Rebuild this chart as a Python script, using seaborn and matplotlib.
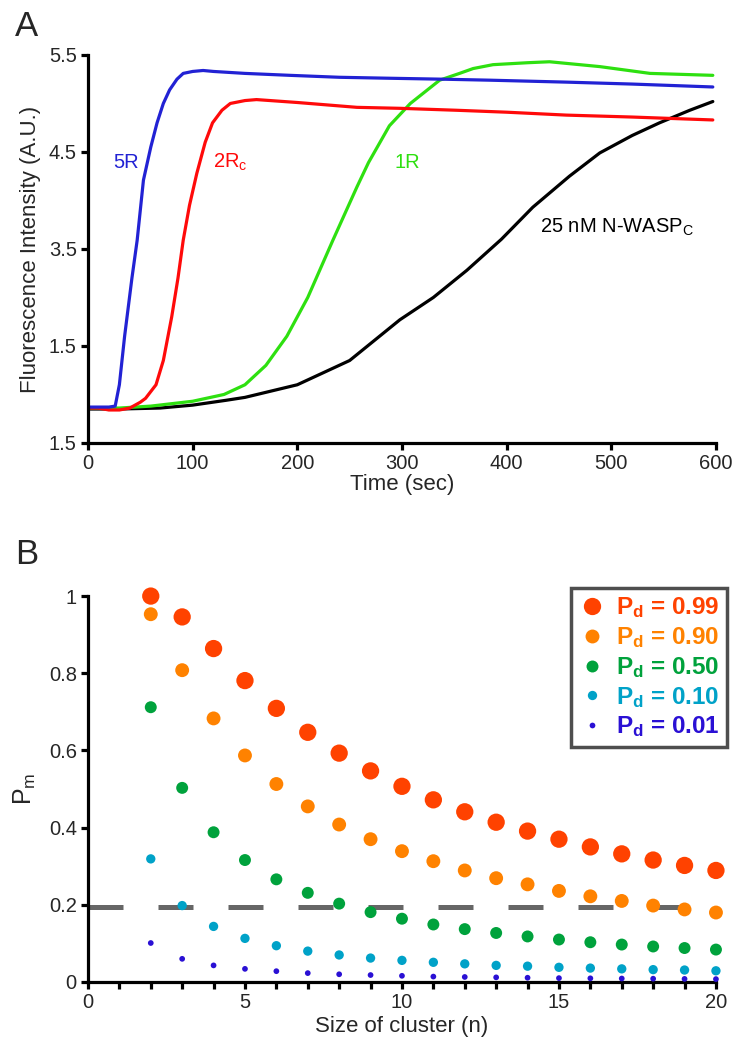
import matplotlib
matplotlib.use("Agg")
import matplotlib.pyplot as plt
import matplotlib.ticker as mticker
from matplotlib.lines import Line2D
import pandas as pd
import seaborn as sns

# Panel A: fluorescence traces (time in sec, intensity in A.U.)
t_5r = [0, 10, 20, 26, 30, 35, 42, 47, 53, 60, 66, 72, 78, 85, 91, 100, 110, 120, 150, 193, 240, 288, 340, 384, 457, 520, 597]
y_5r = [1.87, 1.87, 1.87, 1.88, 2.1, 2.6, 3.2, 3.59, 4.21, 4.55, 4.80, 5.0, 5.14, 5.25, 5.31, 5.33, 5.34, 5.33, 5.31, 5.29, 5.27, 5.26, 5.25, 5.24, 5.22, 5.20, 5.17]

t_2rc = [0, 10, 20, 30, 40, 50, 55, 65, 72, 80, 86, 91, 97, 104, 112, 119, 128, 136, 150, 161, 200, 257, 298, 352, 400, 457, 520, 597]
y_2rc = [1.86, 1.86, 1.84, 1.84, 1.86, 1.92, 1.96, 2.1, 2.35, 2.8, 3.2, 3.59, 3.95, 4.28, 4.6, 4.80, 4.93, 5.0, 5.03, 5.04, 5.01, 4.96, 4.95, 4.93, 4.91, 4.88, 4.86, 4.83]

t_1r = [0, 30, 60, 100, 130, 150, 170, 190, 210, 234, 257, 268, 288, 308, 336, 355, 368, 387, 420, 441, 489, 537, 597]
y_1r = [1.86, 1.86, 1.88, 1.93, 2.0, 2.1, 2.3, 2.6, 3.0, 3.59, 4.14, 4.39, 4.77, 5.0, 5.24, 5.31, 5.36, 5.40, 5.42, 5.43, 5.38, 5.31, 5.29]

t_wasp = [0, 30, 69, 100, 132, 150, 200, 250, 298, 330, 362, 395, 425, 460, 489, 520, 546, 575, 597]
y_wasp = [1.85, 1.85, 1.86, 1.89, 1.94, 1.97, 2.1, 2.35, 2.77, 3.0, 3.28, 3.6, 3.93, 4.25, 4.49, 4.67, 4.80, 4.93, 5.02]

trace_names = ["5R", "2Rc", "1R", "N-WASPc"]
trace_colors = {"5R": "#2222d4", "2Rc": "#ff0a0a", "1R": "#2ee010", "N-WASPc": "#000000"}

# Panel B: P_m versus cluster size n
n_vals = list(range(2, 21))
pm_099 = [1.0, 0.946, 0.864, 0.781, 0.709, 0.647, 0.593, 0.547, 0.507, 0.472, 0.441, 0.414, 0.391, 0.370, 0.350, 0.332, 0.316, 0.302, 0.289]
pm_090 = [0.953, 0.808, 0.683, 0.587, 0.513, 0.455, 0.408, 0.370, 0.339, 0.313, 0.289, 0.269, 0.253, 0.236, 0.222, 0.210, 0.198, 0.188, 0.180]
pm_050 = [0.712, 0.503, 0.388, 0.316, 0.266, 0.231, 0.203, 0.181, 0.164, 0.149, 0.137, 0.127, 0.118, 0.110, 0.103, 0.097, 0.092, 0.088, 0.084]
pm_010 = [0.319, 0.198, 0.144, 0.113, 0.094, 0.080, 0.070, 0.062, 0.056, 0.051, 0.047, 0.043, 0.041, 0.038, 0.036, 0.034, 0.032, 0.031, 0.029]
pm_001 = [0.101, 0.060, 0.043, 0.034, 0.028, 0.023, 0.020, 0.018, 0.016, 0.014, 0.013, 0.012, 0.011, 0.010, 0.0095, 0.009, 0.0085, 0.008, 0.0075]
pd_levels = ["0.99", "0.90", "0.50", "0.10", "0.01"]
pd_colors = {"0.99": "#ff4200", "0.90": "#ff8200", "0.50": "#00a23c", "0.10": "#00a2c8", "0.01": "#2a10d4"}
pd_sizes = {"0.99": 155, "0.90": 100, "0.50": 74, "0.10": 45, "0.01": 17}
threshold = 0.195

sns.set_style("ticks")
plt.rcParams["font.family"] = ["Liberation Sans", "DejaVu Sans"]
plt.rcParams["mathtext.fontset"] = "custom"
plt.rcParams["mathtext.rm"] = "Liberation Sans"
plt.rcParams["mathtext.it"] = "Liberation Sans:italic"
plt.rcParams["mathtext.bf"] = "Liberation Sans:bold"

traces = pd.concat([
    pd.DataFrame({"time": t, "intensity": y, "trace": name})
    for name, t, y in zip(trace_names, [t_5r, t_2rc, t_1r, t_wasp], [y_5r, y_2rc, y_1r, y_wasp])
])
cluster = pd.concat([
    pd.DataFrame({"n": n_vals, "pm": vals, "pd": lvl})
    for lvl, vals in zip(pd_levels, [pm_099, pm_090, pm_050, pm_010, pm_001])
])

fig = plt.figure(figsize=(7.5, 10.43), dpi=100)
ax_a = fig.add_axes([0.1173, 0.5753, 0.8373, 0.372])
ax_b = fig.add_axes([0.1173, 0.0585, 0.8373, 0.370])

# ---- panel A
sns.lineplot(data=traces, x="time", y="intensity", hue="trace", palette=trace_colors,
             hue_order=trace_names[::-1], lw=2.3, ax=ax_a, legend=False, sort=False,
             estimator=None)
ax_a.set_xlim(0, 600)
ax_a.set_ylim(1.5, 5.5)
ax_a.set_xticks(range(0, 601, 100))
ax_a.set_yticks([1.5, 2.5, 3.5, 4.5, 5.5])
ax_a.set_yticklabels(["1.5", "1.5", "3.5", "4.5", "5.5"])
ax_a.set_xlabel("Time (sec)", fontsize=16, labelpad=1)
ax_a.set_ylabel("Fluorescence Intensity (A.U.)", fontsize=16, labelpad=6)

ax_a.text(24, 4.39, "5R", color=trace_colors["5R"], fontsize=14.5, va="center")
ax_a.text(119, 4.39, r"2R$_\mathrm{c}$", color=trace_colors["2Rc"], fontsize=14.5, va="center")
ax_a.text(293, 4.39, "1R", color=trace_colors["1R"], fontsize=14.5, va="center")
ax_a.text(432, 3.72, r"25 nM N-WASP$_\mathrm{C}$", color="black", fontsize=14.5, va="center")

# ---- panel B
ax_b.plot([0, 20], [threshold, threshold], color="#666666", lw=3.6, dashes=(7, 7), zorder=1)
sns.scatterplot(data=cluster, x="n", y="pm", hue="pd", size="pd", palette=pd_colors,
                sizes=pd_sizes, hue_order=pd_levels, linewidth=0, ax=ax_b, legend=False,
                zorder=3, clip_on=False)
ax_b.set_xlim(0, 20)
ax_b.set_ylim(0, 1)
ax_b.xaxis.set_major_locator(mticker.MultipleLocator(1))
ax_b.xaxis.set_major_formatter(mticker.FuncFormatter(lambda v, p: f"{int(v)}" if int(v) % 5 == 0 else ""))
ax_b.set_yticks([0, 0.2, 0.4, 0.6, 0.8, 1.0])
ax_b.set_yticklabels(["0", "0.2", "0.4", "0.6", "0.8", "1"])
ax_b.set_xlabel("Size of cluster (n)", fontsize=16, labelpad=3)
ax_b.set_ylabel(r"P$_\mathrm{m}$", fontsize=18, labelpad=8)

handles = [
    Line2D([], [], ls="none", marker="o", markersize=pd_sizes[lvl] ** 0.5, color=pd_colors[lvl], mew=0)
    for lvl in pd_levels
]
labels = [r"$\mathbf{P_d}$ = " + lvl for lvl in pd_levels]
leg = ax_b.legend(handles, labels, loc="upper right", bbox_to_anchor=(0.969, 0.436),
                  bbox_transform=fig.transFigure, frameon=True, fancybox=False,
                  prop={"size": 17.5, "weight": "bold"}, handletextpad=0.45,
                  labelspacing=0.2, borderpad=0.3, handlelength=1.1, borderaxespad=0)
leg.get_frame().set_edgecolor("#222222")
leg.get_frame().set_linewidth(2.5)
for txt, lvl in zip(leg.get_texts(), pd_levels):
    txt.set_color(pd_colors[lvl])

for ax in (ax_a, ax_b):
    sns.despine(ax=ax)
    for side in ("left", "bottom"):
        ax.spines[side].set_linewidth(2.3)
        ax.spines[side].set_color("black")
    ax.tick_params(direction="out", length=5, width=2.3, labelsize=14.5, pad=3, color="black")

fig.text(0.02, 0.975, "A", fontsize=25, va="center")
fig.text(0.02, 0.468, "B", fontsize=25, va="center")

fig.savefig("out.png", dpi=100)
